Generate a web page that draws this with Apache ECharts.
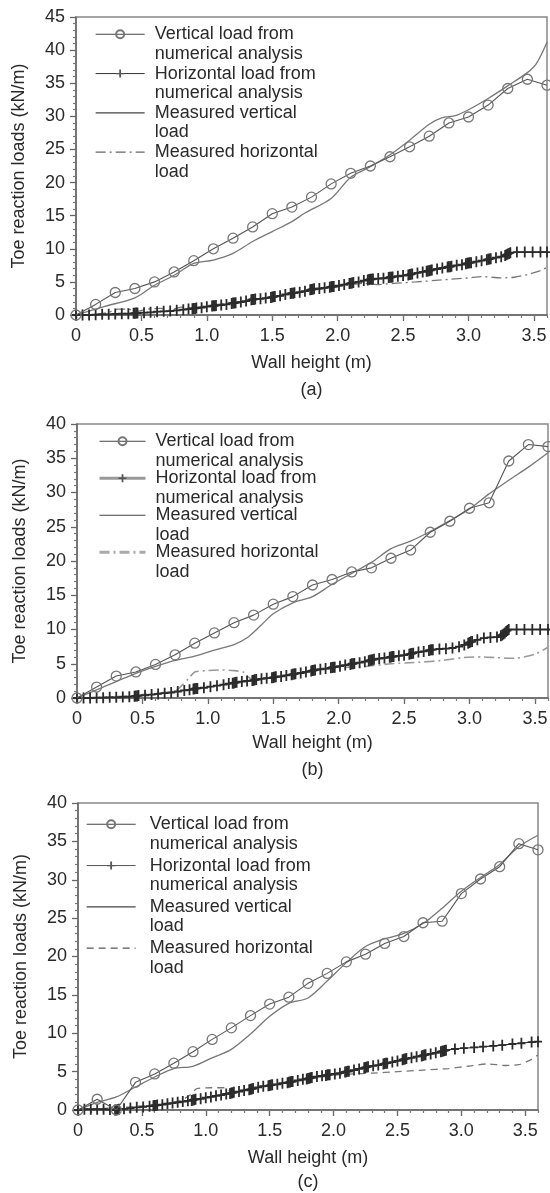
<!DOCTYPE html>
<html><head><meta charset="utf-8">
<script src="https://cdn.jsdelivr.net/npm/echarts@6.0.0/dist/echarts.min.js"></script>
<style>html,body{margin:0;padding:0;background:#fff}#c{width:550px;height:1193px}</style>
</head><body><div id="c"></div>
<script>
// ---------- data ----------
const xTickLabels = ['0','0.5','1.0','1.5','2.0','2.5','3.0','3.5'];
const xNum = [0,0.15,0.3,0.45,0.6,0.75,0.9,1.05,1.2,1.35,1.5,1.65,1.8,1.95,2.1,2.25,2.4,2.55,2.7,2.85,3.0,3.15,3.3,3.45,3.6];

const vNumA = [0,1.6,3.4,4.0,5.0,6.5,8.2,10.0,11.6,13.3,15.3,16.3,17.8,19.8,21.4,22.5,23.9,25.4,27.0,29.0,29.9,31.7,34.2,35.6,34.7];
const vNumB = [0,1.6,3.2,3.8,4.9,6.3,8.0,9.5,11.0,12.1,13.7,14.8,16.5,17.3,18.4,19.0,20.4,21.6,24.2,25.8,27.7,28.5,34.6,37.0,36.7];
const vNumC = [0,1.4,0.0,3.6,4.7,6.1,7.6,9.2,10.7,12.3,13.8,14.7,16.5,17.8,19.3,20.3,21.7,22.6,24.4,24.6,28.2,30.1,31.7,34.7,33.9];

const hNumA = [[0,0],[0.05,0],[0.1,0],[0.15,0.05],[0.2,0.1],[0.25,0.1],[0.3,0.15],[0.35,0.2],[0.4,0.2],
[0.44,0.25],[0.45,0.25],[0.46,0.3],[0.47,0.3],
[0.52,0.35],[0.57,0.4],[0.62,0.5],[0.67,0.55],[0.72,0.6],[0.77,0.7],[0.82,0.8],[0.86,0.9],
[0.89,0.95],[0.9,1.0],[0.91,1.0],[0.92,1.05],
[0.96,1.1],[1.0,1.25],
[1.04,1.35],[1.05,1.4],[1.06,1.4],[1.07,1.45],
[1.11,1.5],[1.15,1.6],
[1.19,1.75],[1.2,1.8],[1.21,1.8],[1.22,1.85],
[1.26,1.95],[1.3,2.1],
[1.34,2.3],[1.35,2.35],[1.36,2.35],[1.37,2.4],
[1.41,2.45],[1.45,2.55],
[1.49,2.65],[1.5,2.7],[1.51,2.75],[1.52,2.8],
[1.56,2.9],[1.6,3.1],
[1.64,3.25],[1.65,3.3],[1.66,3.3],[1.67,3.35],
[1.71,3.45],[1.75,3.6],
[1.79,3.8],[1.8,3.85],[1.81,3.9],[1.82,3.95],
[1.86,4.0],[1.9,4.1],
[1.94,4.2],[1.95,4.25],[1.96,4.3],[1.97,4.3],
[2.01,4.45],[2.05,4.6],
[2.09,4.75],[2.1,4.8],[2.11,4.85],[2.12,4.9],
[2.16,5.0],[2.2,5.2],
[2.23,5.3],[2.24,5.35],[2.25,5.4],[2.26,5.4],[2.27,5.45],
[2.31,5.5],[2.35,5.55],
[2.39,5.65],[2.4,5.7],[2.41,5.7],[2.42,5.75],
[2.46,5.85],[2.5,5.95],
[2.54,6.05],[2.55,6.1],[2.56,6.15],[2.57,6.2],
[2.61,6.35],[2.65,6.5],
[2.68,6.6],[2.69,6.65],[2.7,6.7],[2.71,6.75],[2.72,6.8],
[2.76,6.95],[2.8,7.1],
[2.84,7.25],[2.85,7.3],[2.86,7.3],[2.87,7.35],
[2.91,7.5],[2.95,7.6],
[2.98,7.75],[2.99,7.8],[3.0,7.85],[3.01,7.9],[3.02,7.9],
[3.06,8.05],[3.1,8.2],
[3.14,8.35],[3.15,8.4],[3.16,8.45],[3.17,8.5],
[3.21,8.65],[3.25,8.8],
[3.28,9.0],[3.29,9.1],[3.3,9.2],[3.31,9.3],[3.32,9.4],
[3.37,9.5],[3.43,9.5],[3.49,9.5],[3.55,9.5],[3.6,9.5]];

const hNumB = [[0,0],[0.05,0],[0.1,0],[0.15,0.05],[0.2,0.05],[0.25,0.1],[0.3,0.1],[0.35,0.15],[0.4,0.2],
[0.44,0.25],[0.45,0.3],[0.46,0.3],[0.47,0.35],
[0.52,0.4],[0.57,0.5],[0.62,0.6],[0.67,0.7],[0.72,0.8],[0.77,0.95],[0.82,1.1],[0.86,1.2],
[0.89,1.3],[0.9,1.35],[0.91,1.4],[0.92,1.4],
[0.97,1.5],[1.02,1.65],[1.07,1.8],[1.12,1.95],[1.16,2.1],
[1.19,2.15],[1.2,2.2],[1.21,2.25],[1.22,2.3],
[1.26,2.4],[1.3,2.5],
[1.34,2.55],[1.35,2.6],[1.36,2.65],[1.37,2.7],
[1.41,2.8],[1.45,2.9],
[1.49,2.95],[1.5,3.0],[1.51,3.05],[1.52,3.1],
[1.56,3.15],[1.6,3.3],
[1.64,3.4],[1.65,3.45],[1.66,3.5],[1.67,3.55],
[1.71,3.65],[1.75,3.8],
[1.79,3.95],[1.8,4.0],[1.81,4.05],[1.82,4.1],
[1.86,4.2],[1.9,4.3],
[1.94,4.4],[1.95,4.45],[1.96,4.5],[1.97,4.5],
[2.01,4.65],[2.05,4.8],
[2.09,4.9],[2.1,5.0],[2.11,5.0],[2.12,5.05],
[2.16,5.15],[2.2,5.3],
[2.23,5.45],[2.24,5.5],[2.25,5.55],[2.26,5.6],[2.27,5.65],
[2.31,5.75],[2.35,5.85],
[2.39,5.95],[2.4,6.0],[2.41,6.05],[2.42,6.05],
[2.46,6.15],[2.5,6.25],
[2.54,6.4],[2.55,6.45],[2.56,6.5],[2.57,6.55],
[2.61,6.7],[2.65,6.8],
[2.69,6.95],[2.7,7.0],[2.71,7.05],[2.72,7.05],
[2.77,7.15],[2.82,7.2],[2.87,7.3],[2.92,7.5],[2.96,7.75],
[2.99,8.0],[3.0,8.1],[3.01,8.2],[3.02,8.25],
[3.06,8.5],[3.11,8.75],[3.16,8.85],[3.21,8.9],
[3.24,9.1],[3.25,9.2],[3.26,9.35],[3.27,9.5],[3.28,9.7],[3.29,9.85],[3.3,10.0],
[3.36,10.0],[3.42,10.0],[3.48,10.0],[3.54,10.0],[3.6,10.0]];

const hNumC = [[0,0],[0.05,0.1],[0.1,0.1],[0.15,0.1],[0.2,0.1],[0.25,0.05],
[0.29,0.0],[0.3,0.0],[0.31,0.05],[0.32,0.1],
[0.36,0.15],[0.41,0.25],[0.46,0.35],[0.51,0.4],[0.56,0.5],
[0.59,0.55],[0.6,0.6],[0.61,0.6],[0.62,0.65],
[0.66,0.7],[0.7,0.8],[0.74,0.9],[0.78,1.0],[0.82,1.1],[0.86,1.2],
[0.89,1.25],[0.9,1.3],[0.91,1.35],[0.92,1.4],
[0.96,1.45],[1.0,1.6],[1.04,1.7],[1.08,1.85],[1.12,1.95],[1.16,2.1],
[1.19,2.15],[1.2,2.2],[1.21,2.25],[1.22,2.3],
[1.26,2.4],[1.3,2.55],
[1.34,2.65],[1.35,2.7],[1.36,2.75],[1.37,2.8],
[1.41,2.95],[1.45,3.1],
[1.49,3.15],[1.5,3.2],[1.51,3.25],[1.52,3.3],
[1.56,3.35],[1.6,3.5],
[1.64,3.55],[1.65,3.6],[1.66,3.65],[1.67,3.7],[1.68,3.7],
[1.72,3.85],[1.76,4.0],
[1.79,4.05],[1.8,4.1],[1.81,4.15],[1.82,4.2],[1.83,4.25],
[1.87,4.35],[1.91,4.45],
[1.94,4.5],[1.95,4.55],[1.96,4.6],[1.97,4.6],
[2.01,4.7],[2.05,4.8],
[2.09,4.95],[2.1,5.0],[2.11,5.05],[2.12,5.05],
[2.16,5.2],[2.2,5.35],
[2.24,5.5],[2.25,5.55],[2.26,5.6],[2.27,5.65],
[2.31,5.75],[2.35,5.85],
[2.39,6.0],[2.4,6.05],[2.41,6.1],[2.42,6.1],
[2.46,6.25],[2.5,6.4],
[2.54,6.55],[2.55,6.6],[2.56,6.65],[2.57,6.7],
[2.61,6.8],[2.65,6.95],
[2.69,7.05],[2.7,7.1],[2.71,7.15],[2.72,7.2],
[2.76,7.3],[2.8,7.45],
[2.84,7.6],[2.85,7.65],[2.86,7.7],[2.87,7.75],[2.88,7.8],
[2.95,7.95],[3.02,8.05],[3.1,8.15],[3.17,8.25],[3.25,8.35],[3.32,8.45],[3.4,8.6],[3.47,8.7],[3.55,8.85],[3.6,8.9]];

const mvA = [[0,0],[0.22,1.3],[0.45,2.6],[0.6,4.5],[0.75,6.0],[0.9,7.8],[1.05,8.3],[1.2,9.3],[1.35,11.1],[1.5,12.6],[1.65,14.1],[1.75,15.4],[1.95,17.6],[2.1,20.8],[2.25,22.4],[2.4,24.2],[2.55,26.4],[2.7,28.8],[2.8,29.8],[2.9,30.1],[3.0,31.0],[3.15,32.7],[3.3,34.6],[3.45,36.6],[3.52,38.0],[3.6,41.2]];
const mvB = [[0,0],[0.15,1.2],[0.3,2.4],[0.45,3.6],[0.6,4.6],[0.75,5.5],[0.9,6.1],[1.05,7.0],[1.2,7.8],[1.3,8.8],[1.4,10.5],[1.5,12.3],[1.65,13.9],[1.8,14.8],[1.95,16.6],[2.1,18.2],[2.25,19.8],[2.4,21.8],[2.55,22.9],[2.7,24.3],[2.85,25.9],[3.0,27.6],[3.15,29.8],[3.3,31.8],[3.45,33.7],[3.6,35.8]];
const mvC = [[0,0],[0.15,1.0],[0.3,1.7],[0.45,3.0],[0.6,4.3],[0.75,5.4],[0.9,5.7],[1.05,6.8],[1.2,7.9],[1.35,9.9],[1.5,12.2],[1.65,13.9],[1.8,14.6],[1.95,16.8],[2.1,19.2],[2.25,21.3],[2.4,22.3],[2.55,23.0],[2.7,24.3],[2.85,26.3],[3.0,28.5],[3.15,30.3],[3.3,32.0],[3.45,34.3],[3.6,35.8]];

const mhA = [[0,0],[0.15,0.1],[0.25,0.4],[0.32,0.9],[0.4,0.9],[0.45,0.5],[0.55,0.9],[0.65,1.0],[0.72,0.7],[0.8,1.2],[0.9,1.1],[1.0,1.4],[1.2,1.9],[1.4,2.4],[1.6,3.0],[1.8,3.7],[2.0,4.3],[2.1,4.6],[2.2,4.8],[2.3,4.6],[2.45,4.8],[2.6,5.0],[2.8,5.3],[3.0,5.6],[3.1,5.8],[3.25,5.6],[3.35,5.7],[3.45,6.1],[3.55,6.7],[3.6,7.2]];
const mhB = [[0,0],[0.2,0.1],[0.4,0.3],[0.6,0.7],[0.75,1.0],[0.8,1.8],[0.85,2.8],[0.9,3.8],[1.0,4.0],[1.1,4.1],[1.2,4.0],[1.27,3.8],[1.3,3.2],[1.35,2.6],[1.5,3.0],[1.7,3.6],[1.9,4.2],[2.05,4.5],[2.2,4.6],[2.4,5.0],[2.6,5.2],[2.8,5.5],[2.95,5.9],[3.1,6.0],[3.2,5.9],[3.35,5.8],[3.5,6.4],[3.6,7.4]];
const mhC = [[0,0],[0.2,0.2],[0.4,0.4],[0.6,0.7],[0.8,1.2],[0.88,2.0],[0.93,2.8],[1.05,2.9],[1.15,2.9],[1.2,2.4],[1.4,2.9],[1.6,3.4],[1.8,4.0],[2.0,4.5],[2.15,4.7],[2.3,4.8],[2.5,5.0],[2.7,5.2],[2.9,5.4],[3.05,5.7],[3.2,6.0],[3.35,5.8],[3.45,5.9],[3.55,6.6],[3.6,7.2]];

const seriesNames = ['Vertical load from\nnumerical analysis','Horizontal load from\nnumerical analysis','Measured vertical\nload','Measured horizontal\nload'];
const panelTags = ['(a)','(b)','(c)'];
const xTitle = 'Wall height (m)';
const yTitle = 'Toe reaction loads (kN/m)';

// ---------- layout / style ----------
const FONT = '"Liberation Sans", Arial, Helvetica, sans-serif';
const TXT = '#2a2a2a';
const PLUS = 'path://M3.1,0 L4.9,0 L4.9,4.6 L8,4.6 L8,6.4 L4.9,6.4 L4.9,11 L3.1,11 L3.1,6.4 L0,6.4 L0,4.6 L3.1,4.6 Z';
const HIDE = {color:'rgba(0,0,0,0)', borderColor:'rgba(0,0,0,0)', borderWidth:0};

const panels = [
  {grid:{left:76,top:17,width:471,height:298}, ymax:45, v:vNumA, h:hNumA, mv:mvA, mh:mhA, mhType:[10,4,2,4], mhColor:'#777', mhWidth:1.3,
   leg:{left:95,top:5,gap:-19.2,pad:5,w:49}, nameGapX:39, tagY:390, legHStyle:{color:'#333',width:1}, legMHStyle:{color:'#666',width:1.3,type:[10,4,2,4]}},
  {grid:{left:77,top:424,width:471,height:274}, ymax:40, v:vNumB, h:hNumB, mv:mvB, mh:mhB, mhType:[10,4,2,4], mhColor:'#999', mhWidth:1.6,
   leg:{left:98,top:412,gap:-21.5,pad:5,w:46}, nameGapX:36, tagY:770, legHStyle:{color:'#999',width:3}, legMHStyle:{color:'#aaa',width:3,type:[10,4,2,4]}},
  {grid:{left:78,top:803,width:460,height:307}, ymax:40, v:vNumC, h:hNumC, mv:mvC, mh:mhC, mhType:[7,5], mhColor:'#777', mhWidth:1.3,
   leg:{left:86,top:795,gap:-17.2,pad:9,w:49}, nameGapX:39, tagY:1182, legHStyle:{color:'#555',width:1}, legMHStyle:{color:'#555',width:1.3,type:[7,5]}}
];

const grid = [], xAxis = [], yAxis = [], series = [], legend = [], graphic = [];
panels.forEach((p, i) => {
  grid.push(Object.assign({show:true, borderColor:'#888', borderWidth:1.5, backgroundColor:'transparent', containLabel:false, outerBoundsMode:'none'}, p.grid));
  xAxis.push({gridIndex:i, type:'value', min:0, max:3.6, interval:0.5, position:'bottom',
    name:xTitle, nameLocation:'middle', nameGap:p.nameGapX,
    nameTextStyle:{fontSize:18, color:TXT, fontFamily:FONT},
    axisLine:{show:true, onZero:false, lineStyle:{color:'#666', width:1.5}},
    axisTick:{show:true, inside:false, length:6, lineStyle:{color:'#666', width:1.3}},
    axisLabel:{fontSize:18, color:TXT, fontFamily:FONT, margin:12, showMaxLabel:false,
      formatter: v => { const k = Math.round(v / 0.5); return Math.abs(v - k*0.5) < 1e-6 ? xTickLabels[k] : ''; }},
    splitLine:{show:false}});
  xAxis.push({gridIndex:i, type:'value', min:0, max:3.6, interval:0.1, position:'bottom',
    axisLine:{show:false}, axisTick:{show:true, inside:false, length:3, lineStyle:{color:'#777', width:1.2}},
    axisLabel:{show:false}, splitLine:{show:false}});
  yAxis.push({gridIndex:i, type:'value', min:0, max:p.ymax, interval:5,
    name:yTitle, nameLocation:'middle', nameGap:48, nameRotate:90,
    nameTextStyle:{fontSize:18, color:TXT, fontFamily:FONT},
    axisLine:{show:true, onZero:false, lineStyle:{color:'#666', width:1.5}},
    axisTick:{show:true, inside:false, length:6, lineStyle:{color:'#666', width:1.3}},
    minorTick:{show:true, splitNumber:5, length:3, lineStyle:{color:'#777', width:1.2}},
    axisLabel:{fontSize:18, color:TXT, fontFamily:FONT, margin:11},
    splitLine:{show:false}, minorSplitLine:{show:false}});

  const xi = 2*i, yi = i;
  series.push({type:'line', name:seriesNames[2], xAxisIndex:xi, yAxisIndex:yi, data:p.mv, symbol:'none', smooth:0.3,
    lineStyle:{color:'#777', width:1.3}, itemStyle:{color:'#777'}, z:2, silent:true});
  series.push({type:'line', name:seriesNames[3], xAxisIndex:xi, yAxisIndex:yi, data:p.mh, symbol:'none', smooth:0.2,
    lineStyle:{color:p.mhColor, width:p.mhWidth, type:p.mhType}, itemStyle:{color:p.mhColor}, z:2, silent:true});
  series.push({type:'line', name:seriesNames[1], xAxisIndex:xi, yAxisIndex:yi, data:p.h, symbol:PLUS, symbolSize:[8,11],
    lineStyle:{color:'#222', width:1.1}, itemStyle:{color:'#2b2b2b'}, z:3, silent:true});
  series.push({type:'line', name:seriesNames[0], xAxisIndex:xi, yAxisIndex:yi, data:xNum.map((x,k)=>[x, p.v[k]]),
    symbol:'circle', symbolSize:10,
    lineStyle:{color:'#555', width:1.1}, itemStyle:{color:'rgba(255,255,255,0)', borderColor:'#777', borderWidth:1.3}, z:4, silent:true});

  const legData = [
    {name:seriesNames[0], lineStyle:{color:'#444', width:1}},
    {name:seriesNames[1], lineStyle:p.legHStyle, itemStyle:{color:'#555', borderWidth:0}},
    {name:seriesNames[2], itemStyle:HIDE, lineStyle:{color:'#444', width:1.2}},
    {name:seriesNames[3], itemStyle:HIDE, lineStyle:p.legMHStyle}
  ];
  legend.push({orient:'vertical', left:p.leg.left, top:p.leg.top, padding:0, itemWidth:p.leg.w, itemHeight:10, itemGap:p.leg.gap,
    selectedMode:false, data:legData, formatter: name => ' \n' + name,
    textStyle:{fontSize:18, color:TXT, fontFamily:FONT, lineHeight:19.5, padding:[0,0,0,p.leg.pad]}});

  graphic.push({type:'text', x:p.grid.left + p.grid.width/2, y:p.tagY,
    style:{text:panelTags[i], font:'18px ' + FONT, fill:TXT, align:'center', verticalAlign:'middle'}});
});

const chart = echarts.init(document.getElementById('c'), null, {renderer:'canvas'});
chart.setOption({animation:false, backgroundColor:'#fff', textStyle:{fontFamily:FONT},
  grid, xAxis, yAxis, series, legend, graphic, tooltip:{show:false}});
</script></body></html>
